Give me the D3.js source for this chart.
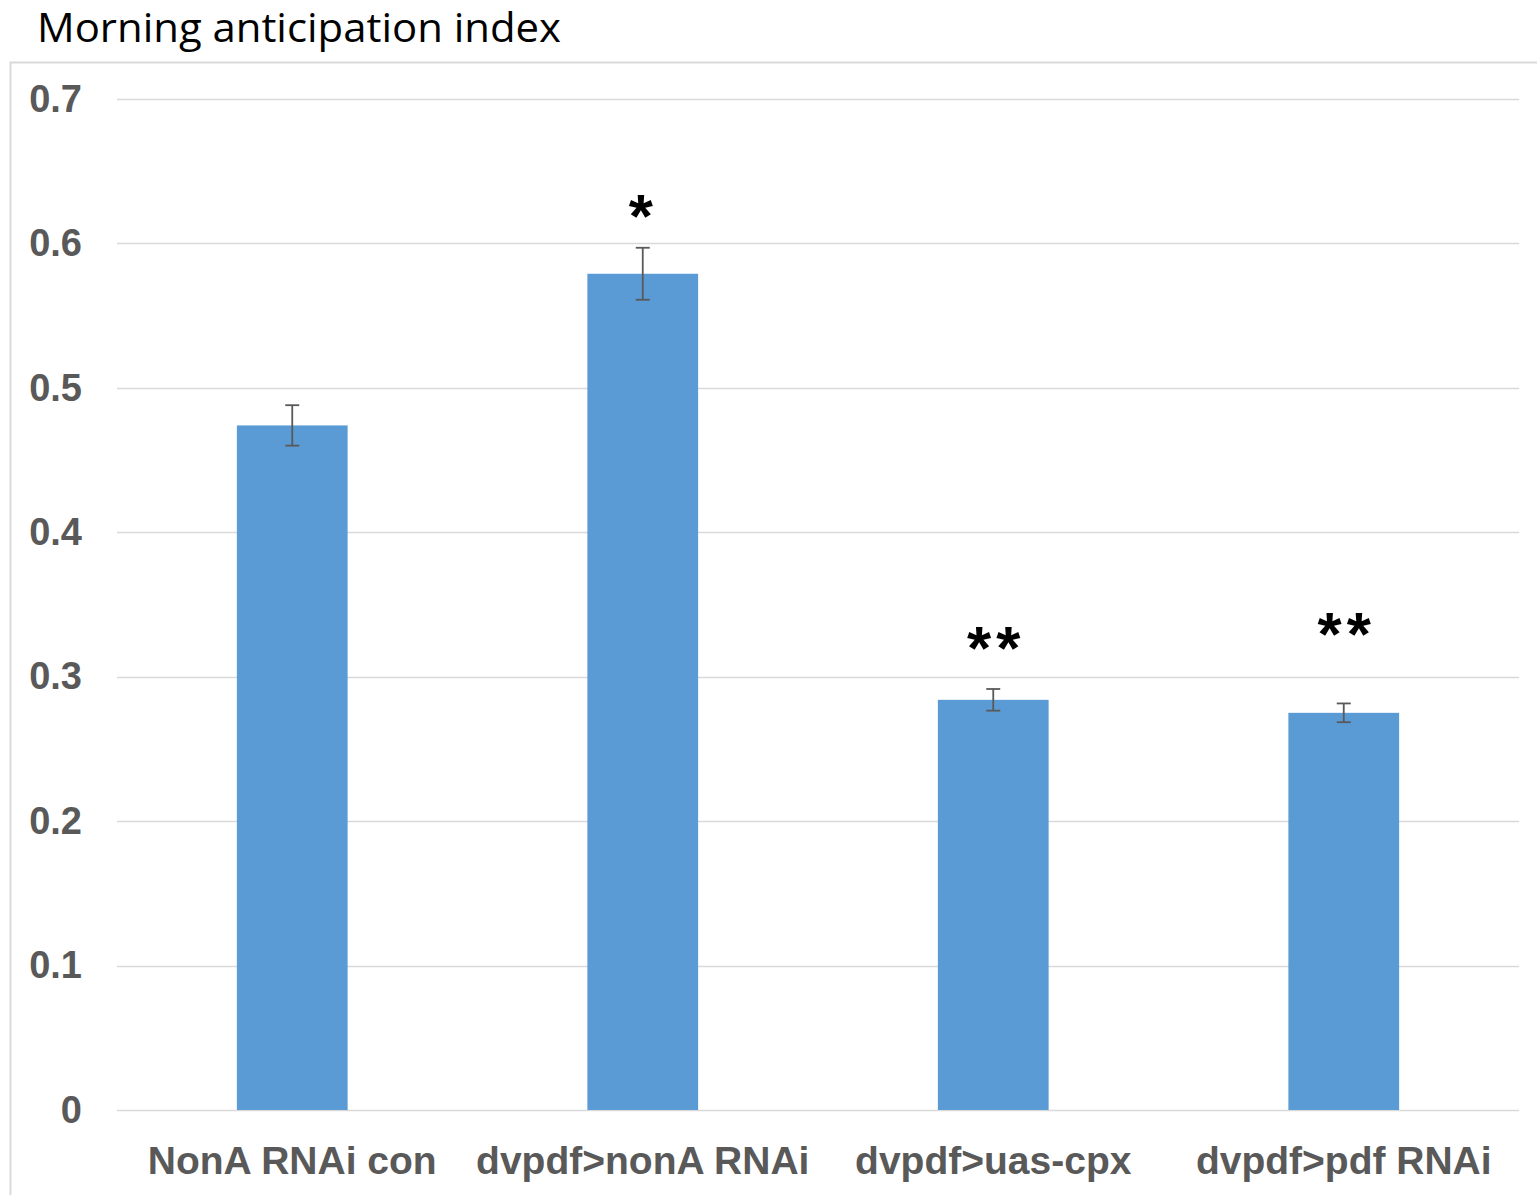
<!DOCTYPE html>
<html>
<head>
<meta charset="utf-8">
<script src="https://cdnjs.cloudflare.com/ajax/libs/d3/7.8.5/d3.min.js"></script>
<style>
    body { margin: 0; background: #fff; }
    svg { display: block; }
</style>
</head>
<body>
<svg id="chart" width="1537" height="1195"></svg>
<script>
const categories = ["NonA RNAi con", "dvpdf>nonA RNAi", "dvpdf>uas-cpx", "dvpdf>pdf RNAi"];
const values = [0.474, 0.579, 0.284, 0.275];
const errors = [0.014, 0.018, 0.0075, 0.0065];
const marks = ["", "*", "**", "**"];
const markLevels = [null, 0.6045, 0.3053, 0.315];
const yTicks = [0, 0.1, 0.2, 0.3, 0.4, 0.5, 0.6, 0.7];

const svg = d3.select("#chart");

const plot = { left: 117, right: 1519, top: 99, bottom: 1110 };

// outer frame, runs off the right and bottom edges like the original
svg.append("rect")
    .attr("x", 10.5)
    .attr("y", 62.5)
    .attr("width", 1560)
    .attr("height", 1200)
    .attr("fill", "none")
    .attr("stroke", "#d9d9d9")
    .attr("stroke-width", 2);

svg.append("text")
    .attr("x", 37)
    .attr("y", 42)
    .attr("font-family", "'Open Sans', sans-serif")
    .attr("font-size", 40)
    .attr("fill", "#000")
    .attr("textLength", 524)
    .attr("lengthAdjust", "spacingAndGlyphs")
    .text("Morning anticipation index");

const x = d3.scaleBand()
    .domain(categories)
    .range([plot.left, plot.right])
    .paddingInner(0.684)
    .paddingOuter(0.342);

const y = d3.scaleLinear()
    .domain([0, 0.7])
    .range([plot.bottom, plot.top]);

// gridlines
svg.append("g")
    .selectAll("line")
    .data(yTicks)
    .enter()
    .append("line")
    .attr("x1", plot.left)
    .attr("x2", plot.right)
    .attr("y1", function(d) { return Math.round(y(d)) + 0.5; })
    .attr("y2", function(d) { return Math.round(y(d)) + 0.5; })
    .attr("stroke", "#d9d9d9")
    .attr("stroke-width", 1.5);

const yAxis = svg.append("g")
    .attr("transform", "translate(" + 82 + ",0)")
    .call(d3.axisLeft(y).tickValues(yTicks).tickSize(0).tickPadding(0)
        .tickFormat(function(d) { return d === 0 ? "0" : d3.format(".1f")(d); }));
yAxis.select(".domain").remove();
yAxis.selectAll("text")
    .attr("font-family", "'Liberation Sans', Arial, sans-serif")
    .attr("font-weight", "bold")
    .attr("font-size", 38)
    .attr("fill", "#595959");

// bars
svg.append("g")
    .selectAll("rect")
    .data(values)
    .enter()
    .append("rect")
    .attr("x", function(d, i) { return x(categories[i]); })
    .attr("y", function(d) { return y(d); })
    .attr("width", x.bandwidth())
    .attr("height", function(d) { return y(0) - y(d); })
    .attr("fill", "#5b9bd5");

// error bars
const err = svg.append("g")
    .attr("stroke", "#595959")
    .attr("stroke-width", 1.8)
    .selectAll("g")
    .data(values)
    .enter()
    .append("g")
    .attr("transform", function(d, i) {
        return "translate(" + (x(categories[i]) + x.bandwidth() / 2) + ",0)";
    });

err.append("line")
    .attr("y1", function(d, i) { return y(d + errors[i]); })
    .attr("y2", function(d, i) { return y(d - errors[i]); });
err.append("line")
    .attr("x1", -7).attr("x2", 7)
    .attr("y1", function(d, i) { return y(d + errors[i]); })
    .attr("y2", function(d, i) { return y(d + errors[i]); });
err.append("line")
    .attr("x1", -7).attr("x2", 7)
    .attr("y1", function(d, i) { return y(d - errors[i]); })
    .attr("y2", function(d, i) { return y(d - errors[i]); });

// significance marks
marks.forEach(function(m, i) {
    if (!m) return;
    svg.append("text")
        .attr("x", x(categories[i]) + x.bandwidth() / 2 + (m.length > 1 ? 3 : -2))
        .attr("y", y(markLevels[i]))
        .attr("text-anchor", "middle")
        .attr("font-family", "'Liberation Sans', Arial, sans-serif")
        .attr("font-weight", "bold")
        .attr("font-size", 62)
        .attr("letter-spacing", m.length > 1 ? 5 : 0)
        .attr("fill", "#000")
        .text(m);
});

// category labels
const xAxis = svg.append("g")
    .attr("transform", "translate(0," + 1174 + ")")
    .call(d3.axisBottom(x).tickSize(0).tickPadding(0));
xAxis.select(".domain").remove();
xAxis.selectAll("text")
    .attr("dy", 0)
    .attr("font-family", "'Liberation Sans', Arial, sans-serif")
    .attr("font-weight", "bold")
    .attr("font-size", 39)
    .attr("fill", "#595959");
</script>
</body>
</html>
